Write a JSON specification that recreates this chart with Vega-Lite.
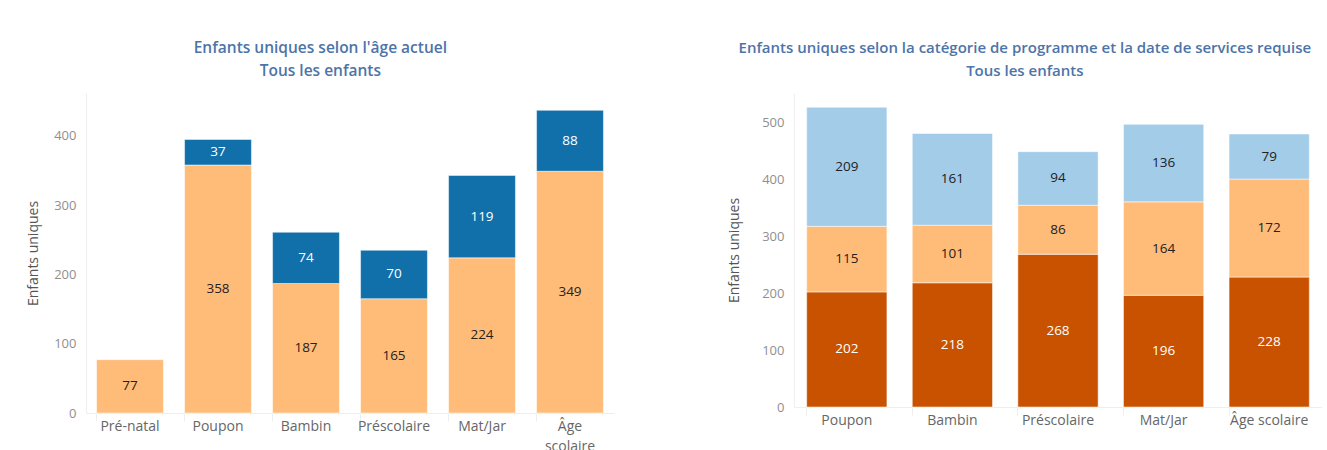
{
  "$schema": "https://vega.github.io/schema/vega-lite/v6.json",
  "padding": {"left": 26, "top": 40, "right": 0, "bottom": 0},
  "background": "white",
  "spacing": 113,
  "resolve": {"scale": {"color": "independent", "y": "independent"}},
  "config": {
    "font": "Open Sans",
    "view": {"stroke": null},
    "title": {"fontSize": 15, "fontWeight": 600, "color": "#4d74a8", "lineHeight": 23, "frame": "bounds", "anchor": "middle", "offset": 14},
    "axisY": {"domainColor": "#eeeeee", "ticks": false, "grid": false, "labelPadding": 10, "labelFontSize": 13, "labelColor": "#8f8f8f", "titleFontSize": 14, "titleFontWeight": "normal", "titleColor": "#555555"},
    "axisX": {"domainColor": "#eeeeee", "tickColor": "#eeeeee", "tickSize": 8, "bandPosition": 0, "labelAngle": 0, "labelFontSize": 14, "labelColor": "#666666", "labelPadding": -2, "title": null}
  },
  "datasets": {
    "gauche": [
      {"categorie": "Pré-natal", "statut": "A", "ordre": 1, "valeur": 77},
      {"categorie": "Poupon", "statut": "A", "ordre": 1, "valeur": 358},
      {"categorie": "Poupon", "statut": "B", "ordre": 2, "valeur": 37},
      {"categorie": "Bambin", "statut": "A", "ordre": 1, "valeur": 187},
      {"categorie": "Bambin", "statut": "B", "ordre": 2, "valeur": 74},
      {"categorie": "Préscolaire", "statut": "A", "ordre": 1, "valeur": 165},
      {"categorie": "Préscolaire", "statut": "B", "ordre": 2, "valeur": 70},
      {"categorie": "Mat/Jar", "statut": "A", "ordre": 1, "valeur": 224},
      {"categorie": "Mat/Jar", "statut": "B", "ordre": 2, "valeur": 119},
      {"categorie": "Âge scolaire", "statut": "A", "ordre": 1, "valeur": 349},
      {"categorie": "Âge scolaire", "statut": "B", "ordre": 2, "valeur": 88}
    ],
    "droite": [
      {"categorie": "Poupon", "serie": "Groupe 1", "ordre": 1, "valeur": 202},
      {"categorie": "Poupon", "serie": "Groupe 2", "ordre": 2, "valeur": 115},
      {"categorie": "Poupon", "serie": "Groupe 3", "ordre": 3, "valeur": 209},
      {"categorie": "Bambin", "serie": "Groupe 1", "ordre": 1, "valeur": 218},
      {"categorie": "Bambin", "serie": "Groupe 2", "ordre": 2, "valeur": 101},
      {"categorie": "Bambin", "serie": "Groupe 3", "ordre": 3, "valeur": 161},
      {"categorie": "Préscolaire", "serie": "Groupe 1", "ordre": 1, "valeur": 268},
      {"categorie": "Préscolaire", "serie": "Groupe 2", "ordre": 2, "valeur": 86},
      {"categorie": "Préscolaire", "serie": "Groupe 3", "ordre": 3, "valeur": 94},
      {"categorie": "Mat/Jar", "serie": "Groupe 1", "ordre": 1, "valeur": 196},
      {"categorie": "Mat/Jar", "serie": "Groupe 2", "ordre": 2, "valeur": 164},
      {"categorie": "Mat/Jar", "serie": "Groupe 3", "ordre": 3, "valeur": 136},
      {"categorie": "Âge scolaire", "serie": "Groupe 1", "ordre": 1, "valeur": 228},
      {"categorie": "Âge scolaire", "serie": "Groupe 2", "ordre": 2, "valeur": 172},
      {"categorie": "Âge scolaire", "serie": "Groupe 3", "ordre": 3, "valeur": 79}
    ]
  },
  "hconcat": [
    {
      "width": 528,
      "height": 320,
      "title": {"text": ["Enfants uniques selon l'âge actuel", "Tous les enfants"], "fontSize": 15.5},
      "data": {"name": "gauche"},
      "transform": [
        {"stack": "valeur", "groupby": ["categorie"], "sort": [{"field": "ordre"}], "as": ["y0", "y1"]},
        {"calculate": "(datum.y0 + datum.y1) / 2", "as": "ymid"}
      ],
      "encoding": {
        "x": {
          "field": "categorie", "type": "nominal",
          "sort": ["Pré-natal", "Poupon", "Bambin", "Préscolaire", "Mat/Jar", "Âge scolaire"],
          "scale": {"paddingInner": 0.24, "paddingOuter": 0.12},
          "axis": {"labelExpr": "datum.label == 'Âge scolaire' ? ['Âge', 'scolaire'] : datum.label", "labelLineHeight": 20}
        }
      },
      "layer": [
        {
          "mark": {"type": "bar", "stroke": "white", "strokeWidth": 1, "strokeOpacity": 0.5},
          "encoding": {
            "y": {"field": "y0", "type": "quantitative", "scale": {"domain": [0, 462], "nice": false},
                  "axis": {"values": [0, 100, 200, 300, 400], "title": "Enfants uniques", "titlePadding": 13}},
            "y2": {"field": "y1"},
            "color": {"field": "statut", "type": "nominal", "scale": {"domain": ["A", "B"], "range": ["#ffbc79", "#1170aa"]}, "legend": null}
          }
        },
        {
          "mark": {"type": "text", "fontSize": 13.5, "baseline": "middle"},
          "encoding": {
            "y": {"field": "ymid", "type": "quantitative"},
            "text": {"field": "valeur", "type": "quantitative"},
            "color": {"condition": {"test": "datum.statut == 'B'", "value": "white"}, "value": "#222222"}
          }
        }
      ]
    },
    {
      "width": 528,
      "height": 314,
      "title": {"text": ["Enfants uniques selon la catégorie de programme et la date de services requise", "Tous les enfants"]},
      "data": {"name": "droite"},
      "transform": [
        {"stack": "valeur", "groupby": ["categorie"], "sort": [{"field": "ordre"}], "as": ["y0", "y1"]},
        {"calculate": "(datum.y0 + datum.y1) / 2", "as": "ymid"}
      ],
      "encoding": {
        "x": {
          "field": "categorie", "type": "nominal",
          "sort": ["Poupon", "Bambin", "Préscolaire", "Mat/Jar", "Âge scolaire"],
          "scale": {"paddingInner": 0.24, "paddingOuter": 0.12}
        }
      },
      "layer": [
        {
          "mark": {"type": "bar", "stroke": "white", "strokeWidth": 1, "strokeOpacity": 0.5},
          "encoding": {
            "y": {"field": "y0", "type": "quantitative", "scale": {"domain": [0, 551], "nice": false},
                  "axis": {"values": [0, 100, 200, 300, 400, 500], "title": "Enfants uniques", "titlePadding": 20}},
            "y2": {"field": "y1"},
            "color": {"field": "serie", "type": "nominal", "scale": {"domain": ["Groupe 1", "Groupe 2", "Groupe 3"], "range": ["#c85200", "#ffbc79", "#a3cce9"]}, "legend": null}
          }
        },
        {
          "mark": {"type": "text", "fontSize": 13.5, "baseline": "middle"},
          "encoding": {
            "y": {"field": "ymid", "type": "quantitative"},
            "text": {"field": "valeur", "type": "quantitative"},
            "color": {"condition": {"test": "datum.serie == 'Groupe 1'", "value": "white"}, "value": "#222222"}
          }
        }
      ]
    }
  ]
}
